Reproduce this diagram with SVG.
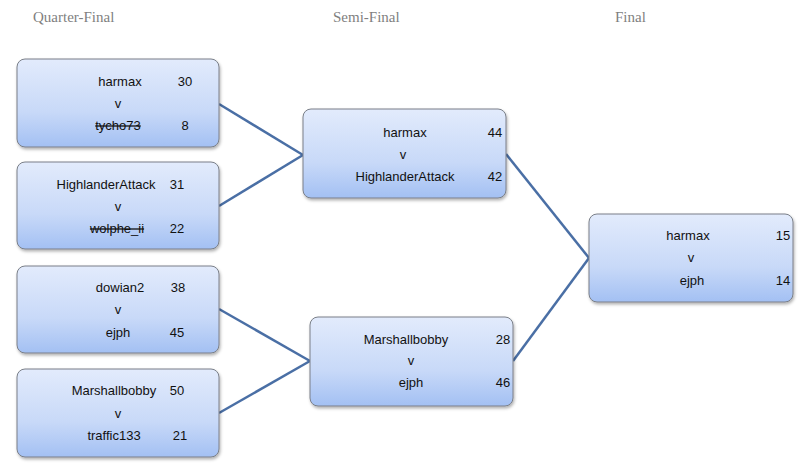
<svg xmlns="http://www.w3.org/2000/svg" width="807" height="468" viewBox="0 0 807 468">
<defs>
<linearGradient id="g" x1="0" y1="0" x2="0" y2="1">
<stop offset="0" stop-color="#e2ebfc"/>
<stop offset="0.6" stop-color="#c8d9f8"/>
<stop offset="1" stop-color="#a3c0f3"/>
</linearGradient>
<filter id="sh" x="-5%" y="-5%" width="115%" height="120%">
<feDropShadow dx="1" dy="2" stdDeviation="1.5" flood-color="#000" flood-opacity="0.3"/>
</filter>
</defs>
<style>
.box{fill:url(#g);stroke:#7a7f88;stroke-width:1;filter:url(#sh)}
.t{font-family:"Liberation Sans",Arial,sans-serif;font-size:13px;fill:#111;text-anchor:middle}
.s{text-decoration:line-through}
.h{font-family:"Liberation Serif","Times New Roman",serif;font-size:15px;fill:#7f7f7f}
.c{stroke:#4a6fa5;stroke-width:2.5;fill:none}
</style>
<rect width="807" height="468" fill="#fff"/>
<text class="h" x="33" y="22">Quarter-Final</text>
<text class="h" x="333" y="22">Semi-Final</text>
<text class="h" x="615" y="22">Final</text>
<g id="connectors">
<line class="c" x1="219" y1="104" x2="303" y2="155"/>
<line class="c" x1="219" y1="206" x2="303" y2="155"/>
<line class="c" x1="219" y1="309" x2="310" y2="361"/>
<line class="c" x1="219" y1="413" x2="310" y2="361"/>
<line class="c" x1="506" y1="154" x2="589" y2="258"/>
<line class="c" x1="513" y1="361" x2="589" y2="258"/>
</g>
<g id="qf1">
<rect class="box" x="17" y="59" width="202" height="88" rx="8"/>
<text class="t" x="120" y="86">harmax</text><text class="t" x="185" y="86">30</text>
<text class="t" x="118" y="108">v</text>
<text class="t s" x="118" y="130">tycho73</text><text class="t" x="185" y="130">8</text>
</g>
<g id="qf2">
<rect class="box" x="17" y="162" width="202" height="87" rx="8"/>
<text class="t" x="106" y="189">HighlanderAttack</text><text class="t" x="177" y="189">31</text>
<text class="t" x="118" y="211">v</text>
<text class="t s" x="117" y="233">wolphe_ii</text><text class="t" x="177" y="233">22</text>
</g>
<g id="qf3">
<rect class="box" x="17" y="266" width="202" height="87" rx="8"/>
<text class="t" x="120" y="292">dowian2</text><text class="t" x="178" y="292">38</text>
<text class="t" x="118" y="314">v</text>
<text class="t" x="118" y="337">ejph</text><text class="t" x="177" y="337">45</text>
</g>
<g id="qf4">
<rect class="box" x="17" y="369" width="202" height="88" rx="8"/>
<text class="t" x="114" y="395">Marshallbobby</text><text class="t" x="177" y="395">50</text>
<text class="t" x="118" y="418">v</text>
<text class="t" x="114" y="440">traffic133</text><text class="t" x="180" y="440">21</text>
</g>
<g id="sf1">
<rect class="box" x="303" y="109" width="203" height="89" rx="8"/>
<text class="t" x="405" y="137">harmax</text><text class="t" x="495" y="137">44</text>
<text class="t" x="403" y="159">v</text>
<text class="t" x="405" y="181">HighlanderAttack</text><text class="t" x="495" y="181">42</text>
</g>
<g id="sf2">
<rect class="box" x="310" y="317" width="203" height="89" rx="8"/>
<text class="t" x="406" y="344">Marshallbobby</text><text class="t" x="503" y="344">28</text>
<text class="t" x="411" y="365">v</text>
<text class="t" x="411" y="387">ejph</text><text class="t" x="503" y="387">46</text>
</g>
<g id="final">
<rect class="box" x="589" y="214" width="204" height="88" rx="8"/>
<text class="t" x="688" y="240">harmax</text><text class="t" x="783" y="240">15</text>
<text class="t" x="691" y="262">v</text>
<text class="t" x="692" y="285">ejph</text><text class="t" x="783" y="285">14</text>
</g>
</svg>
